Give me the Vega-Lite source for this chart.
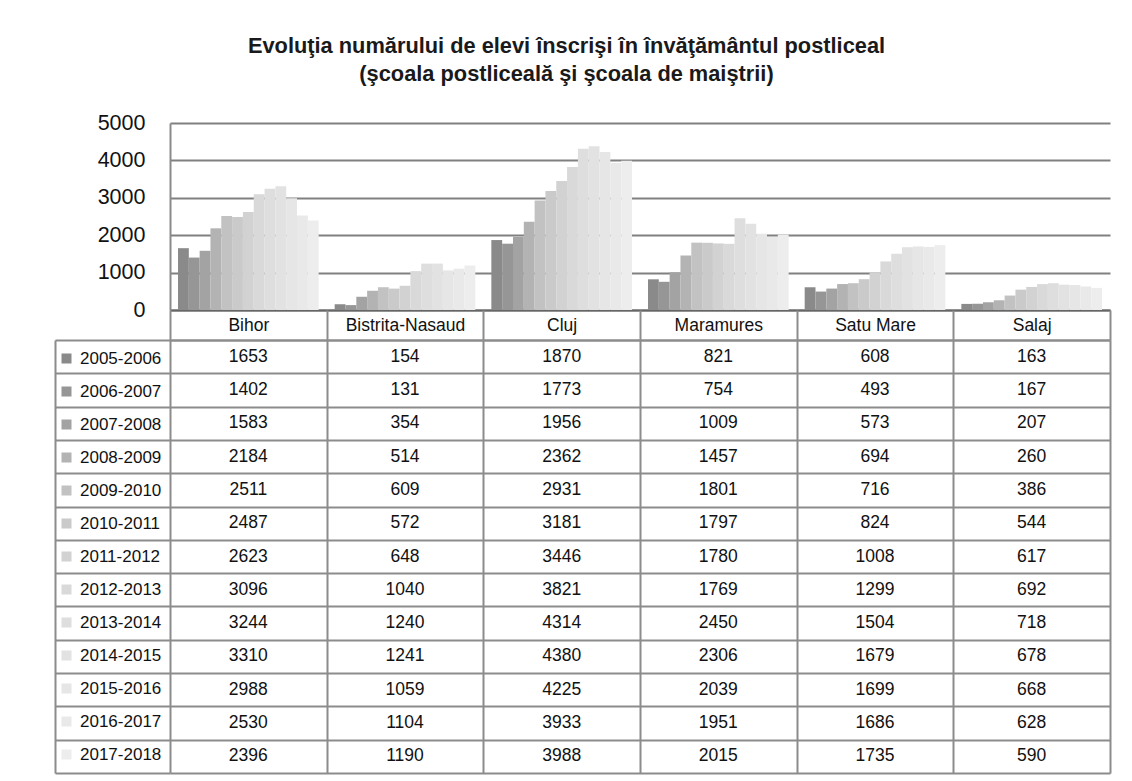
{
  "$schema": "https://vega.github.io/schema/vega-lite/v6.json",
  "padding": {"left": 54, "top": 36, "right": 10, "bottom": 5},
  "background": "white",
  "title": {
    "text": ["Evoluţia numărului de elevi înscrişi în învăţământul postliceal", "(şcoala postliceală şi şcoala de maiştrii)"],
    "font": "Liberation Sans",
    "fontSize": 21.8,
    "fontWeight": "bold",
    "color": "#1a1a1a",
    "anchor": "middle",
    "lineHeight": 28,
    "offset": 26,
    "dx": -16
  },
  "config": {
    "view": {"stroke": null},
    "font": "Liberation Sans",
    "axis": {"labelFont": "Liberation Sans", "labelColor": "#111", "minExtent": 0},
    "legend": {"labelFont": "Liberation Sans"}
  },
  "data": {
    "values": [
      {"county": "Bihor", "year": "2005-2006", "value": 1653},
      {"county": "Bihor", "year": "2006-2007", "value": 1402},
      {"county": "Bihor", "year": "2007-2008", "value": 1583},
      {"county": "Bihor", "year": "2008-2009", "value": 2184},
      {"county": "Bihor", "year": "2009-2010", "value": 2511},
      {"county": "Bihor", "year": "2010-2011", "value": 2487},
      {"county": "Bihor", "year": "2011-2012", "value": 2623},
      {"county": "Bihor", "year": "2012-2013", "value": 3096},
      {"county": "Bihor", "year": "2013-2014", "value": 3244},
      {"county": "Bihor", "year": "2014-2015", "value": 3310},
      {"county": "Bihor", "year": "2015-2016", "value": 2988},
      {"county": "Bihor", "year": "2016-2017", "value": 2530},
      {"county": "Bihor", "year": "2017-2018", "value": 2396},
      {"county": "Bistrita-Nasaud", "year": "2005-2006", "value": 154},
      {"county": "Bistrita-Nasaud", "year": "2006-2007", "value": 131},
      {"county": "Bistrita-Nasaud", "year": "2007-2008", "value": 354},
      {"county": "Bistrita-Nasaud", "year": "2008-2009", "value": 514},
      {"county": "Bistrita-Nasaud", "year": "2009-2010", "value": 609},
      {"county": "Bistrita-Nasaud", "year": "2010-2011", "value": 572},
      {"county": "Bistrita-Nasaud", "year": "2011-2012", "value": 648},
      {"county": "Bistrita-Nasaud", "year": "2012-2013", "value": 1040},
      {"county": "Bistrita-Nasaud", "year": "2013-2014", "value": 1240},
      {"county": "Bistrita-Nasaud", "year": "2014-2015", "value": 1241},
      {"county": "Bistrita-Nasaud", "year": "2015-2016", "value": 1059},
      {"county": "Bistrita-Nasaud", "year": "2016-2017", "value": 1104},
      {"county": "Bistrita-Nasaud", "year": "2017-2018", "value": 1190},
      {"county": "Cluj", "year": "2005-2006", "value": 1870},
      {"county": "Cluj", "year": "2006-2007", "value": 1773},
      {"county": "Cluj", "year": "2007-2008", "value": 1956},
      {"county": "Cluj", "year": "2008-2009", "value": 2362},
      {"county": "Cluj", "year": "2009-2010", "value": 2931},
      {"county": "Cluj", "year": "2010-2011", "value": 3181},
      {"county": "Cluj", "year": "2011-2012", "value": 3446},
      {"county": "Cluj", "year": "2012-2013", "value": 3821},
      {"county": "Cluj", "year": "2013-2014", "value": 4314},
      {"county": "Cluj", "year": "2014-2015", "value": 4380},
      {"county": "Cluj", "year": "2015-2016", "value": 4225},
      {"county": "Cluj", "year": "2016-2017", "value": 3933},
      {"county": "Cluj", "year": "2017-2018", "value": 3988},
      {"county": "Maramures", "year": "2005-2006", "value": 821},
      {"county": "Maramures", "year": "2006-2007", "value": 754},
      {"county": "Maramures", "year": "2007-2008", "value": 1009},
      {"county": "Maramures", "year": "2008-2009", "value": 1457},
      {"county": "Maramures", "year": "2009-2010", "value": 1801},
      {"county": "Maramures", "year": "2010-2011", "value": 1797},
      {"county": "Maramures", "year": "2011-2012", "value": 1780},
      {"county": "Maramures", "year": "2012-2013", "value": 1769},
      {"county": "Maramures", "year": "2013-2014", "value": 2450},
      {"county": "Maramures", "year": "2014-2015", "value": 2306},
      {"county": "Maramures", "year": "2015-2016", "value": 2039},
      {"county": "Maramures", "year": "2016-2017", "value": 1951},
      {"county": "Maramures", "year": "2017-2018", "value": 2015},
      {"county": "Satu Mare", "year": "2005-2006", "value": 608},
      {"county": "Satu Mare", "year": "2006-2007", "value": 493},
      {"county": "Satu Mare", "year": "2007-2008", "value": 573},
      {"county": "Satu Mare", "year": "2008-2009", "value": 694},
      {"county": "Satu Mare", "year": "2009-2010", "value": 716},
      {"county": "Satu Mare", "year": "2010-2011", "value": 824},
      {"county": "Satu Mare", "year": "2011-2012", "value": 1008},
      {"county": "Satu Mare", "year": "2012-2013", "value": 1299},
      {"county": "Satu Mare", "year": "2013-2014", "value": 1504},
      {"county": "Satu Mare", "year": "2014-2015", "value": 1679},
      {"county": "Satu Mare", "year": "2015-2016", "value": 1699},
      {"county": "Satu Mare", "year": "2016-2017", "value": 1686},
      {"county": "Satu Mare", "year": "2017-2018", "value": 1735},
      {"county": "Salaj", "year": "2005-2006", "value": 163},
      {"county": "Salaj", "year": "2006-2007", "value": 167},
      {"county": "Salaj", "year": "2007-2008", "value": 207},
      {"county": "Salaj", "year": "2008-2009", "value": 260},
      {"county": "Salaj", "year": "2009-2010", "value": 386},
      {"county": "Salaj", "year": "2010-2011", "value": 544},
      {"county": "Salaj", "year": "2011-2012", "value": 617},
      {"county": "Salaj", "year": "2012-2013", "value": 692},
      {"county": "Salaj", "year": "2013-2014", "value": 718},
      {"county": "Salaj", "year": "2014-2015", "value": 678},
      {"county": "Salaj", "year": "2015-2016", "value": 668},
      {"county": "Salaj", "year": "2016-2017", "value": 628},
      {"county": "Salaj", "year": "2017-2018", "value": 590}
    ]
  },
  "spacing": 30,
  "bounds": "flush",
  "resolve": {
    "scale": {"x": "independent", "y": "independent", "color": "independent"},
    "legend": {"color": "independent"}
  },
  "vconcat": [
    {
      "width": 940,
      "height": 187,
      "mark": {"type": "bar"},
      "encoding": {
        "x": {
          "field": "county", "type": "nominal",
          "sort": ["Bihor", "Bistrita-Nasaud", "Cluj", "Maramures", "Satu Mare", "Salaj"],
          "scale": {"paddingInner": 0, "paddingOuter": 0},
          "axis": {"labels": false, "ticks": false, "title": null, "domainColor": "#666", "domainWidth": 2, "minExtent": 0, "maxExtent": 0}
        },
        "xOffset": {"field": "year", "type": "nominal", "scale": {"paddingInner": 0, "paddingOuter": 0.74}},
        "y": {
          "field": "value", "type": "quantitative",
          "scale": {"domain": [0, 5000], "nice": false},
          "axis": {
            "values": [0, 1000, 2000, 3000, 4000, 5000], "format": "d",
            "title": null, "ticks": false, "labelPadding": 25, "labelFontSize": 21.5,
            "gridColor": "#808080", "gridWidth": 2, "gridOpacity": 1,
            "domainColor": "#8a8a8a", "domainWidth": 2
          }
        },
        "color": {
          "field": "year", "type": "nominal",
          "scale": {"range": ["#8a8a8a", "#969696", "#a3a3a3", "#b3b3b3", "#c2c2c2", "#cacaca", "#d2d2d2", "#d9d9d9", "#dedede", "#e2e2e2", "#e6e6e6", "#e9e9e9", "#ededed"]},
          "legend": null
        }
      }
    },
    {
      "width": 940,
      "height": 433,
      "encoding": {
        "x": {
          "field": "county", "type": "nominal",
          "sort": ["Bihor", "Bistrita-Nasaud", "Cluj", "Maramures", "Satu Mare", "Salaj"],
          "scale": {"paddingInner": 0, "paddingOuter": 0},
          "axis": {
            "orient": "top", "title": null, "labelAngle": 0, "labelFontSize": 17.5,
            "labelBaseline": "middle", "labelPadding": -15, "tickBand": "extent",
            "tickSize": 30, "tickColor": "#8c8c8c", "tickWidth": 2,
            "grid": true, "gridColor": "#8c8c8c", "gridWidth": 2, "gridOpacity": 1,
            "domainColor": "#8c8c8c", "domainWidth": 2
          }
        }
      },
      "layer": [
        {
          "mark": {"type": "square", "opacity": 0},
          "encoding": {
            "y": {
              "field": "year", "type": "nominal",
              "scale": {"paddingInner": 0, "paddingOuter": 0},
              "axis": {
                "orient": "left", "title": null, "labels": false, "domain": false,
                "tickBand": "extent", "tickSize": 115, "tickColor": "#8c8c8c", "tickWidth": 2,
                "grid": true, "gridColor": "#8c8c8c", "gridWidth": 2, "gridOpacity": 1
              }
            },
            "color": {
              "field": "year", "type": "nominal",
              "scale": {"range": ["#8a8a8a", "#969696", "#a3a3a3", "#b3b3b3", "#c2c2c2", "#cacaca", "#d2d2d2", "#d9d9d9", "#dedede", "#e2e2e2", "#e6e6e6", "#e9e9e9", "#ededed"]},
              "legend": {
                "orient": "none", "legendX": -112, "legendY": 2, "title": null,
                "symbolType": "square", "symbolSize": 100, "symbolOpacity": 1,
                "symbolStrokeWidth": 0, "labelFontSize": 17, "labelColor": "#111",
                "labelOffset": 5, "clipHeight": 33, "rowPadding": 0, "padding": 0
              }
            }
          }
        },
        {
          "mark": {"type": "text", "fontSize": 17.5, "color": "#111"},
          "encoding": {
            "y": {
              "field": "year", "type": "nominal",
              "scale": {"paddingInner": 0, "paddingOuter": 0},
              "axis": {
                "orient": "left", "title": null, "labels": false, "ticks": false, "grid": false,
                "offset": 115, "domain": true, "domainColor": "#8c8c8c", "domainWidth": 2
              }
            },
            "text": {"field": "value", "type": "quantitative"}
          }
        }
      ],
      "resolve": {"axis": {"y": "independent"}}
    }
  ]
}
